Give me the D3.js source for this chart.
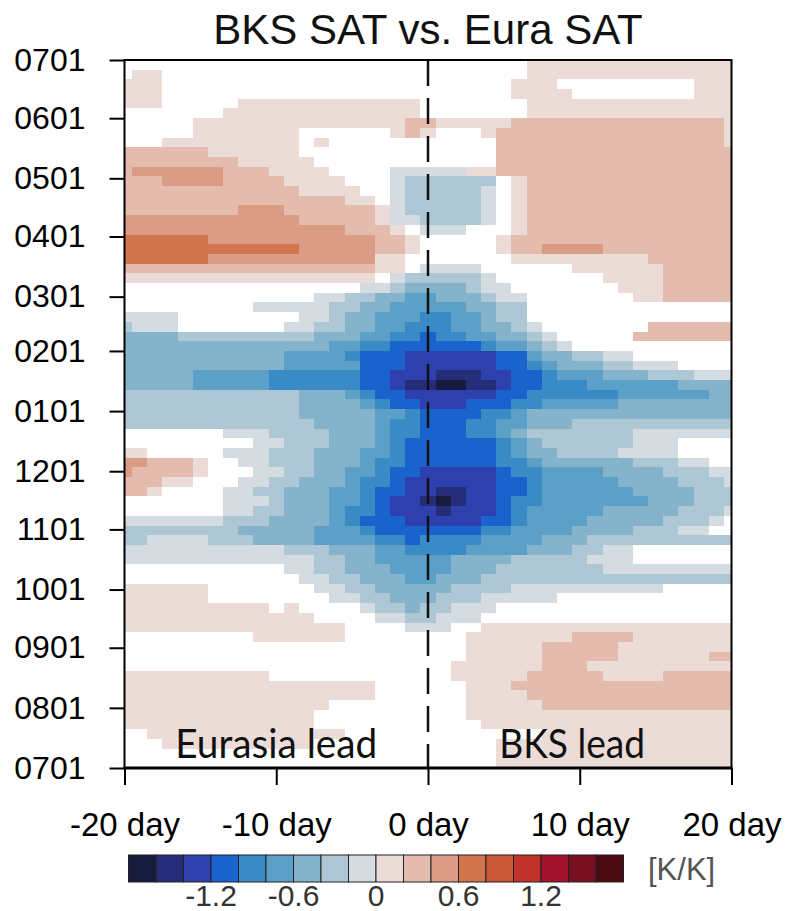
<!DOCTYPE html>
<html>
<head>
<meta charset="utf-8">
<script src="https://cdn.jsdelivr.net/npm/d3@7"></script>
<style>
  body { margin: 0; background: #fff; }
  svg { display: block; }
</style>
</head>
<body>
<svg id="chart" width="790" height="911"></svg>
<script>
// ---- data -------------------------------------------------------------
const title = "BKS SAT vs. Eura SAT";

const lagTicks = [-20, -10, 0, 10, 20];
const lagTickLabels = ["-20 day", "-10 day", "0 day", "10 day", "20 day"];

// day of the season counted from 1 July
const dateTicks = [0, 31, 62, 92, 123, 153, 184, 215, 243, 274, 304, 335, 365];
const dateTickLabels = ["0701", "0801", "0901", "1001", "1101", "1201",
                        "0101", "0201", "0301", "0401", "0501", "0601", "0701"];

const levels = [-1.6, -1.4, -1.2, -1.0, -0.8, -0.6, -0.4, -0.2, 0,
                0.2, 0.4, 0.6, 0.8, 1.0, 1.2, 1.4, 1.6];
const levelColors = ["#171b3e", "#262d78", "#2e40ae", "#1b63cc", "#3a8ac6", "#5c9fc7",
                     "#84b3cb", "#adc7d4", "#d4dce1", "#ecdcd8", "#e3bcad", "#da9c84",
                     "#d2754f", "#ca5737", "#c0322a", "#a3132b", "#781021", "#4a0b12"];
const colorbarLabels = ["-1.2", "-0.6", "0", "0.6", "1.2"];
const colorbarLabelValues = [-1.2, -0.6, 0, 0.6, 1.2];
const unitLabel = "[K/K]";

const binDays = 5;  // each row of the grid spans 5 days

// Regression coefficient per 5-day bin (rows from 0701 at the top down to 0701),
// run-length coded: letter = level class, number = repeat count.
// Upper case = negative classes (A: -0.1, B: -0.3, ... I: -1.7),
// lower case = positive classes (a: 0.1, b: 0.3, ...), "." = not significant.
// Lags -20 .. -1 (Eurasia leads)
const eurasiaLeadRows = [
  ".20", ".1 a2 .17", "a3 .17", "a3 .17", "a3 .5 a12", ".7 a13",
  ".5 a14 b1", ".5 a7 .6 a1 b1", ".3 a9 .1 a1 .6", "b6 a6 .8", "b8 a5 .7",
  "b1 c6 b3 a4 .4 A2", "b3 c4 b4 a4 .3 A1 B1", "b12 a4 .2 A1 B1", "b15 a2 .1 A1 B1",
  "b8 c3 b6 a1 A1 B1", "c12 b5 a1 A2", "c15 b3 a1 .1", "d6 c11 b2 a1", "d12 c5 b2 a1",
  "d6 c11 a2 .1", "b17 a2 .1", "a17 .1 A1 B1", ".16 A2 B1 C1", ".13 A2 B2 C2 D1",
  ".9 A5 B2 C2 D2", "A4 .8 A2 B1 C2 D3", "B1 A3 .7 A2 B2 C2 D2 E1", "C4 B9 C3 D2 E2",
  "C14 D2 E2 F2", "C11 D4 E1 F3 G1", "C11 D5 F3 G1", "C5 D5 E6 F2 G2",
  "C5 D5 E6 F2 G1 H1", "B12 C3 D1 E1 F2 G1", "B12 C4 D1 E1 F2", "B12 C5 D2 E1",
  "B13 C4 D1 E2", ".7 A3 B4 C3 D1 E2", ".9 A2 B3 C3 D1 E1 F1",
  "a2 .5 A3 B3 C3 D2 E1 F1", "c2 b3 a1 .2 A2 B3 C3 D1 E2 F1",
  "c1 b4 a1 .3 A2 B2 C2 D2 E1 F2", "b3 a2 .3 A2 B2 C3 D1 E2 F1 G1",
  "b2 a1 .4 A2 B2 C3 D2 E1 F2 G1", ".7 A3 B1 C3 D2 E1 F1 G2",
  ".7 A2 B2 C3 D1 E2 F1 G2", "A7 B3 C4 D1 E1 F3 G1", "B8 C5 D3 E1 F3",
  "B2 A4 B3 C4 D4 E2 F1", "A11 B3 C3 D2 E1", "A13 B2 C2 D3", ".11 A2 B2 C3 D2",
  ".12 A2 B2 C3 D1", "a6 .7 A2 B2 C3", "a6 .8 A2 B2 C2", "a10 .1 a1 .4 A1 B2 C1",
  "a13 .4 A2 B1", "a15 .4 A1", ".9 a6 .5", ".20", ".20", ".20", "a10 .10",
  "a17 .3", "a17 .3", "a14 .6", "a13 .7", "a13 .7", ".2 a13 .5", ".3 a10 .7",
  ".20", ".20"
];
// Lags 0 .. 20 (BKS leads)
const bksLeadRows = [
  ".7 a14", ".7 a14", ".6 a3 .9 a3", ".6 a4 .8 a3", ".7 a14", ".7 a14",
  "b1 a5 b14 a1", "a1 .3 a1 b15 a1", ".5 b15 a1", ".5 b16", ".5 b16",
  "A3 a2 b16", "B5 .1 a1 b14", "B4 A1 .1 a1 b14", "B4 A1 .1 a1 b14",
  "B4 A1 .1 a1 b14", "B4 A1 .1 a1 b14", "A3 .3 a1 b14", ".5 a1 b15",
  ".5 a1 b2 c4 b9", ".6 a9 b6", "A4 .6 a6 b5", "B4 A1 .7 a4 b5",
  "C3 B1 A2 .7 a3 b5", "D1 C3 B1 A2 .7 a2 b5", "D3 C2 B2 .14", "E2 D2 C1 B2 .14",
  "E2 D2 C2 B1 A1 .7 b6", "F1 E2 D2 C2 B1 A1 .5 b7", "F4 E1 D2 C1 B1 A1 .11",
  "G5 F2 D1 C2 B2 A2 .7", "G5 F2 E1 D1 C3 B2 A3 .4", "G1 H3 G2 F2 E1 D3 C3 B3 A3",
  "H1 I2 H2 G1 F2 E3 D6 C4", "G5 F2 E6 D6 C2", "G3 F3 E2 D5 C8", "F4 E2 D1 C14",
  "F3 E2 D2 C3 B11", "F3 E2 D1 C1 B7 A7", "F5 E1 D1 C1 B6 A3 .4",
  "F5 E1 D1 C2 B4 A4 .4", "F5 E2 D1 C6 B3 A2 .2", "G5 F1 E2 D4 C4 B3 A2",
  "G5 F2 E1 D5 C4 B3 A1", "G1 H2 G2 F2 E1 D6 C4 B3", "H1 I1 H1 G2 F1 E2 D7 C3 B3",
  "G1 H1 G3 F1 E1 D5 C5 B3 A1", "G4 F2 E1 D4 C5 B3 A1 .1", "F4 E2 D4 C4 B3 A2 .2",
  "E4 D4 C3 B10", "E3 D4 C3 B2 A2 .7", "D2 C4 B5 A3 .7", "D2 C3 B7 A9",
  "D1 C3 B17", "C2 B4 A10 .5", "C1 B3 A5 .12", "B2 A3 .16", "B1 A3 .17",
  "A2 .2 a17", ".3 a7 b4 a7", ".3 a5 b5 a8", ".3 a5 b5 a6 b2", ".2 a6 b3 a10",
  ".2 a5 b5 a4 b5", ".3 a3 b15", ".3 a4 b14", ".3 a5 b13", ".3 a18", ".4 a17",
  ".8 a13", ".5 a16", ".5 a16", ".5 a16"
];

const leadLabels = [
  { text: "Eurasia lead", lag: -10, width: 202 },
  { text: "BKS lead", lag: 9.5, width: 146 }
];

// ---- decoding -----------------------------------------------------------
function classValue(ch) {
  if (ch === ".") return null;
  const up = ch.toUpperCase();
  const k = up.charCodeAt(0) - 64;            // A -> 1
  const mag = 0.2 * k - 0.1;
  return ch === up ? -mag : mag;
}
function expand(rle, n) {
  let out = [];
  rle.trim().split(/\s+/).forEach(tok => {
    const ch = tok[0];
    const cnt = tok.length > 1 ? parseInt(tok.slice(1), 10) : 1;
    for (let i = 0; i < cnt; i++) out.push(ch);
  });
  while (out.length < n) out.push(".");
  return out.slice(0, n);
}

// ---- layout -------------------------------------------------------------
const svg = d3.select("#chart");
const fontMain = "'Liberation Sans', Arial, Helvetica, sans-serif";

const x = d3.scaleLinear().domain([-20, 20]).range([124.5, 731.5]);
const y = d3.scaleLinear().domain([0, 365]).range([768, 60]);
const color = d3.scaleThreshold().domain(levels).range(levelColors);

const cells = [];
eurasiaLeadRows.forEach((rle, t) => {
  const top = 365 - binDays * t, bottom = top - binDays;
  expand(rle, 20).forEach((ch, c) => {
    const v = classValue(ch);
    if (v !== null) cells.push({ lag: -20 + c, d0: bottom, d1: top, v });
  });
});
bksLeadRows.forEach((rle, t) => {
  const top = 365 - binDays * t, bottom = top - binDays;
  expand(rle, 21).forEach((ch, c) => {
    const v = classValue(ch);
    if (v !== null) cells.push({ lag: c, d0: bottom, d1: top, v });
  });
});

const lo = d => Math.max(d.lag - 0.5, -20);
const hi = d => Math.min(d.lag + 0.5, 20);

svg.append("g")
  .selectAll("rect")
  .data(cells)
  .join("rect")
  .attr("x", d => x(lo(d)))
  .attr("width", d => x(hi(d)) - x(lo(d)))
  .attr("y", d => y(d.d1))
  .attr("height", d => y(d.d0) - y(d.d1))
  .attr("fill", d => color(d.v))
  .attr("shape-rendering", "crispEdges");

// zero-lag dashed line
svg.append("line")
  .attr("x1", x(0)).attr("x2", x(0))
  .attr("y1", y(365)).attr("y2", y(0))
  .attr("stroke", "#111").attr("stroke-width", 2.5)
  .attr("stroke-dasharray", "26 12");

// lead labels
svg.append("g").selectAll("text")
  .data(leadLabels)
  .join("text")
  .attr("x", d => x(d.lag))
  .attr("y", 758)
  .attr("text-anchor", "middle")
  .attr("font-family", "Lato, 'Open Sans', sans-serif")
  .attr("font-size", 40)
  .attr("textLength", d => d.width)
  .attr("lengthAdjust", "spacingAndGlyphs")
  .attr("fill", "#111")
  .text(d => d.text);

// axes
const gy = svg.append("g")
  .attr("transform", `translate(${x(-20)},0)`)
  .call(d3.axisLeft(y).tickValues(dateTicks)
    .tickFormat((d, i) => dateTickLabels[i]).tickSize(15).tickPadding(24));
gy.select(".domain").remove();
gy.attr("font-family", fontMain).attr("font-size", 32);
gy.selectAll("line").attr("stroke", "#000").attr("stroke-width", 2);
gy.selectAll("text").attr("fill", "#000");

const gx = svg.append("g")
  .attr("transform", `translate(0,${y(0)})`)
  .call(d3.axisBottom(x).tickValues(lagTicks)
    .tickFormat((d, i) => lagTickLabels[i]).tickSize(17).tickPadding(28));
gx.select(".domain").remove();
gx.attr("font-family", fontMain).attr("font-size", 33);
gx.selectAll("line").attr("stroke", "#000").attr("stroke-width", 2);
gx.selectAll("text").attr("fill", "#000");

// frame
svg.append("rect")
  .attr("x", x(-20)).attr("y", y(365))
  .attr("width", x(20) - x(-20)).attr("height", y(0) - y(365))
  .attr("fill", "none").attr("stroke", "#000").attr("stroke-width", 2);
svg.append("line")
  .attr("x1", x(-20) - 1).attr("x2", x(20) + 1)
  .attr("y1", y(0)).attr("y2", y(0))
  .attr("stroke", "#000").attr("stroke-width", 3);

// title
svg.append("text")
  .attr("x", 428).attr("y", 44)
  .attr("text-anchor", "middle")
  .attr("font-family", fontMain)
  .attr("font-size", 42)
  .attr("fill", "#111")
  .text(title);

// colour bar
const cb = d3.scaleLinear().domain([-1.8, 1.8]).range([128.5, 623.5]);
const boxes = levelColors.map((c, i) => ({
  c,
  a: i === 0 ? -1.8 : levels[i - 1],
  b: i === levelColors.length - 1 ? 1.8 : levels[i]
}));
const gcb = svg.append("g");
gcb.selectAll("rect")
  .data(boxes)
  .join("rect")
  .attr("x", d => cb(d.a))
  .attr("width", d => cb(d.b) - cb(d.a))
  .attr("y", 855).attr("height", 27)
  .attr("fill", d => d.c)
  .attr("stroke", "#222").attr("stroke-width", 1);
gcb.selectAll("text")
  .data(colorbarLabelValues)
  .join("text")
  .attr("x", d => cb(d))
  .attr("y", 906)
  .attr("text-anchor", "middle")
  .attr("font-family", fontMain)
  .attr("font-size", 30)
  .attr("fill", "#333")
  .text((d, i) => colorbarLabels[i]);
svg.append("text")
  .attr("x", 648).attr("y", 880)
  .attr("font-family", fontMain)
  .attr("font-size", 31)
  .attr("fill", "#555")
  .text(unitLabel);
</script>
</body>
</html>
